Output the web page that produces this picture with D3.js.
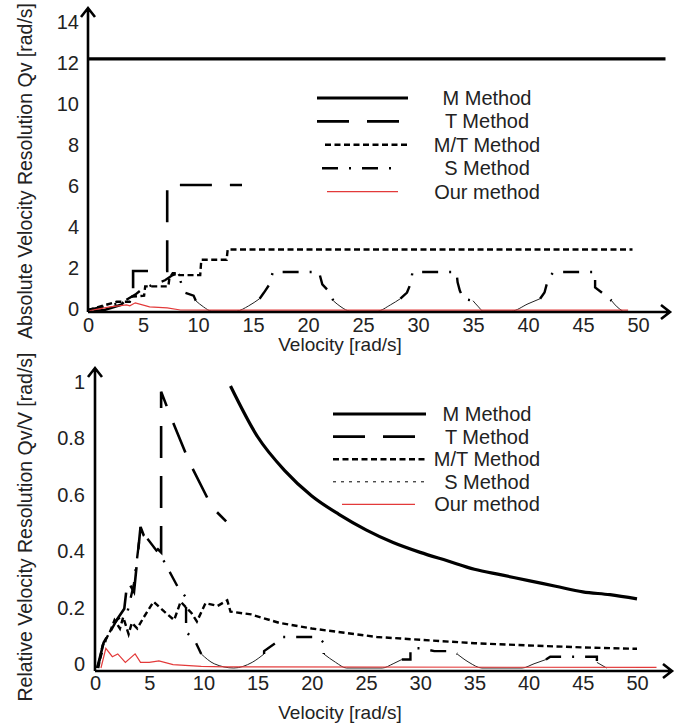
<!DOCTYPE html>
<html lang="en">
<head>
  <meta charset="UTF-8" />
  <title>Velocity Resolution</title>
  <script src="https://cdn.jsdelivr.net/npm/d3@7"></script>
  <style>
    body {
      margin: 0;
      background: #fff;
    }
    svg {
      display: block;
      font-family: Arial, "Liberation Sans", sans-serif;
    }
    .tick text {
      fill: #222;
      font-size: 20px;
    }
  </style>
</head>
<body>
  <div id="chart"></div>

  <script>
    // tick labels
    const velTicks = [0, 5, 10, 15, 20, 25, 30, 35, 40, 45, 50];
    const absTicks = [0, 2, 4, 6, 8, 10, 12, 14];
    const relTicks = [0, 0.2, 0.4, 0.6, 0.8, 1];
    const methods = ["M Method", "T Method", "M/T Method", "S Method", "Our method"];

    // absolute resolution Qv [rad/s] ([velocity, value])
    const mAbs = [[0, 12.3], [52.5, 12.3]];
    const tAbs = [[0.5, 0], [1.5, 0.05], [3, 0.3], [4.1, 0.9], [4.1, 1.95], [7.2, 1.95], [7.2, 6.15], [14, 6.15]];
    const mtAbs = [[0, 0.05], [2.6, 0.45], [3.8, 0.45], [4, 0.7], [5.1, 0.75], [5.2, 1.2], [7.3, 1.2], [7.4, 1.6],
      [7.7, 1.85], [8.2, 1.85], [8.3, 1.75], [10.2, 1.75], [10.3, 2.5], [12.6, 2.5], [12.7, 3.0], [49.5, 3.0]];
    const sAbsStep = [[0, 0.05], [3, 0.4], [4.3, 0.8], [5, 1.1], [6, 1.3], [7, 1.5], [7.7, 1.75], [8.2, 1.85],
      [8.5, 1.3], [8.8, 0.9], [9.6, 0.75], [9.8, 0.5], null,
      [15.6, 0.6], [16, 0.9], [16.5, 1.3], [16.8, 1.9], [21, 1.9], [21.3, 1.3], [22, 0.9], [22.3, 0.5], null,
      [28.4, 0.6], [29, 0.9], [29.3, 1.3], [29.5, 1.9], [33.5, 1.9], [33.6, 1.4], [33.8, 1.0], [34.1, 0.6], [35, 0.5], null,
      [41.1, 0.6], [41.5, 0.9], [41.8, 1.5], [42.3, 1.9], [46.1, 1.9], [46.1, 1.15], [46.7, 0.9], [47.6, 0.5]];
    const sAbsCurve = [[9.8, 0.5], [10.5, 0.2], [11.2, 0], [13.5, 0], [14.6, 0.25], [15.6, 0.6], null,
      [22.3, 0.5], [23, 0.2], [23.8, 0], [26.3, 0], [27.5, 0.3], [28.4, 0.6], null,
      [35, 0.5], [35.5, 0.2], [35.9, 0], [38.5, 0], [40, 0.35], [41.1, 0.6], null,
      [47.6, 0.5], [48.1, 0.2], [48.6, 0]];
    const ourAbs = [[0, 0], [1, 0.1], [2, 0.2], [3.5, 0.3], [3.8, 0.25], [4.3, 0.4], [5.6, 0.2], [7.2, 0.15],
      [8.4, 0.05], [12, 0.04], [49.1, 0.04]];

    // relative resolution Qv/V
    const mRel = [[12.5, 1.0], [15, 0.82], [17.5, 0.7], [20, 0.61], [22.5, 0.545], [25, 0.49], [27.5, 0.445],
      [30, 0.41], [32.5, 0.38], [35, 0.35], [37.5, 0.33], [40, 0.31], [42.5, 0.29], [45, 0.27], [47.5, 0.26], [50, 0.245]];
    const tRel = [[0.2, 0], [0.8, 0.09], [2, 0.17], [2.7, 0.21], [3, 0.31], [3.6, 0.27], [4.2, 0.5], [4.5, 0.47],
      [6.1, 0.41], [6.1, 0.98], [7, 0.89], [8.7, 0.73], [10.8, 0.57], [12.1, 0.52]];
    const mtRel = [[0.3, 0], [0.7, 0.08], [1.4, 0.13], [1.8, 0.17], [2.3, 0.14], [2.6, 0.18], [3.1, 0.12],
      [3.4, 0.16], [3.9, 0.14], [4.5, 0.18], [5.4, 0.235], [6.4, 0.2], [7.3, 0.17], [7.9, 0.235], [8.9, 0.195],
      [9.4, 0.165], [10.2, 0.23], [11.3, 0.22], [12.2, 0.24], [12.5, 0.2], [14.4, 0.19], [17, 0.16], [20, 0.14],
      [23, 0.125], [26, 0.11], [30, 0.1], [35, 0.088], [40, 0.08], [45, 0.073], [50, 0.068]];
    const sRelStep = [[0.2, 0], [1, 0.1], [2, 0.17], [3, 0.2], [3.6, 0.3], [4.2, 0.49], [5, 0.45], [6.2, 0.39],
      [7.6, 0.29], [8.4, 0.25], [8.4, 0.13], [9.3, 0.09], [9.8, 0.05], null,
      [15.6, 0.05], [15.6, 0.06], [16.7, 0.09], [17.2, 0.11], [20.5, 0.11], [21.1, 0.09], [21.1, 0.05], null,
      [28.3, 0.03], [29.1, 0.03], [29.1, 0.07], [30.1, 0.07], [31.3, 0.06], [32.9, 0.06], [33.4, 0.05], null,
      [41.6, 0.03], [42, 0.04], [46.3, 0.04], [46.3, 0.02]];
    const sRelCurve = [[9.8, 0.05], [11, 0.015], [12.8, 0], [14.5, 0.02], [15.6, 0.05], null,
      [21.1, 0.05], [22.2, 0.02], [23.2, 0], [26.5, 0], [27.5, 0.015], [28.3, 0.03], null,
      [33.4, 0.05], [34.5, 0.02], [35.7, 0], [39.4, 0], [40.5, 0.015], [41.6, 0.03], null,
      [46.3, 0.02], [47.2, 0]];
    const ourRel = [[0.55, 0], [1, 0.07], [1.6, 0.04], [2.1, 0.05], [2.8, 0.02], [3.7, 0.05], [4.2, 0.02],
      [5, 0.02], [5.9, 0.025], [7.2, 0.012], [9.8, 0.006], [12, 0.004], [51.8, 0.002]];

    // line styles
    const styles = {
      m: { width: 3.2, dash: null, color: "#000" },
      t: { width: 2.6, dash: "32,18", color: "#000" },
      mt: { width: 2.4, dash: "6,3.5", color: "#000" },
      s: { width: 2.4, dash: "16,11,2,11", color: "#000" },
      sThin: { width: 1, dash: null, color: "#222" },
      sLegendThin: { width: 1, dash: "3,5", color: "#000" },
      our: { width: 1.2, dash: null, color: "#e33a3a" }
    };

    const width = 684;
    const height = 726;

    const svg = d3.select("#chart")
      .append("svg")
      .attr("width", width)
      .attr("height", height);

    function drawPanel(p) {
      const g = svg.append("g");
      const x = d3.scaleLinear().domain([0, 50]).range([p.x0, p.x50]);
      const y = d3.scaleLinear().domain(p.yDomain).range(p.yRange);

      // tick labels only, no tick marks
      const xAxis = g.append("g")
        .attr("transform", `translate(0, ${p.axisY})`)
        .call(d3.axisBottom(x).tickValues(velTicks).tickSize(0).tickPadding(p.xPad).tickFormat(d3.format("d")));
      xAxis.select(".domain").remove();

      const yAxis = g.append("g")
        .attr("transform", `translate(${p.axisX}, ${p.yLabelShift})`)
        .call(d3.axisLeft(y).tickValues(p.yTicks).tickSize(0).tickPadding(p.yPad).tickFormat(d => String(d)));
      yAxis.select(".domain").remove();

      const line = d3.line()
        .defined(d => d)
        .x(d => x(d[0]))
        .y(d => y(d[1]));
      const curve = d3.line()
        .defined(d => d)
        .curve(d3.curveMonotoneX)
        .x(d => x(d[0]))
        .y(d => y(d[1]));

      p.series.forEach(s => {
        const st = styles[s.style];
        g.append("path")
          .attr("d", (s.smooth ? curve : line)(s.data))
          .attr("fill", "none")
          .attr("stroke", st.color)
          .attr("stroke-width", st.width)
          .attr("stroke-dasharray", st.dash)
          .attr("stroke-linejoin", "miter");
      });

      // axes with open arrow heads
      g.append("path")
        .attr("d", `M${p.axisX},${p.axisY} V${p.yTip} M${p.axisX - 7},${p.yTip + 9} L${p.axisX},${p.yTip} L${p.axisX + 7},${p.yTip + 9}`)
        .attr("fill", "none").attr("stroke", "#000").attr("stroke-width", 2.6);
      g.append("path")
        .attr("d", `M${p.axisX},${p.axisY} H${p.xTip} M${p.xTip - 9},${p.axisY - 7} L${p.xTip},${p.axisY} L${p.xTip - 9},${p.axisY + 7}`)
        .attr("fill", "none").attr("stroke", "#000").attr("stroke-width", 2.6);

      // axis titles
      g.append("text")
        .attr("x", p.xTitleX)
        .attr("y", p.xTitleY)
        .attr("text-anchor", "middle")
        .attr("font-size", 19)
        .attr("fill", "#222")
        .text("Velocity [rad/s]");
      g.append("text")
        .attr("transform", `translate(${p.yTitleX}, ${p.yTitleY}) rotate(-90)`)
        .attr("text-anchor", "middle")
        .attr("font-size", 19.5)
        .attr("fill", "#222")
        .text(p.yTitle);

      // legend
      const legend = g.append("g").attr("id", "legend");
      p.legend.forEach((it, i) => {
        const st = styles[it.style];
        const ly = p.legendY + i * p.legendStep;
        legend.append("line")
          .attr("x1", it.x1).attr("x2", it.x2)
          .attr("y1", ly).attr("y2", ly)
          .attr("stroke", st.color)
          .attr("stroke-width", st.width)
          .attr("stroke-dasharray", st.dash);
        legend.append("text")
          .attr("x", p.legendTextX)
          .attr("y", ly + 7)
          .attr("text-anchor", "middle")
          .attr("font-size", 20)
          .attr("fill", "#222")
          .text(methods[i]);
      });
    }

    // top panel: absolute resolution
    drawPanel({
      x0: 88, x50: 638,
      yDomain: [0, 14], yRange: [311, 24], yTicks: absTicks,
      axisX: 88, axisY: 312, yTip: 8, xTip: 670,
      xPad: 6, yPad: 9, yLabelShift: -2,
      xTitleX: 340, xTitleY: 351,
      yTitleX: 32, yTitleY: 171,
      yTitle: "Absolute Velocity Resolution Qv [rad/s]",
      series: [
        { data: mAbs, style: "m" },
        { data: tAbs, style: "t" },
        { data: mtAbs, style: "mt" },
        { data: sAbsCurve, style: "sThin", smooth: true },
        { data: sAbsStep, style: "s" },
        { data: ourAbs, style: "our" }
      ],
      legendY: 98, legendStep: 23.4, legendTextX: 487,
      legend: [
        { style: "m", x1: 317, x2: 408 },
        { style: "t", x1: 317, x2: 405 },
        { style: "mt", x1: 325, x2: 408 },
        { style: "s", x1: 322, x2: 397 },
        { style: "our", x1: 327, x2: 398 }
      ]
    });

    // bottom panel: relative resolution
    drawPanel({
      x0: 95, x50: 637,
      yDomain: [0, 1], yRange: [668, 386], yTicks: relTicks,
      axisX: 95, axisY: 671, yTip: 368, xTip: 672,
      xPad: 5, yPad: 10, yLabelShift: -4,
      xTitleX: 340, xTitleY: 719,
      yTitleX: 32, yTitleY: 527,
      yTitle: "Relative Velocity Resolution Qv/V [rad/s]",
      series: [
        { data: mRel, style: "m", smooth: true },
        { data: tRel, style: "t" },
        { data: mtRel, style: "mt" },
        { data: sRelCurve, style: "sThin", smooth: true },
        { data: sRelStep, style: "s" },
        { data: ourRel, style: "our" }
      ],
      legendY: 414, legendStep: 22.6, legendTextX: 487,
      legend: [
        { style: "m", x1: 333, x2: 426 },
        { style: "t", x1: 333, x2: 426 },
        { style: "mt", x1: 333, x2: 426 },
        { style: "sLegendThin", x1: 333, x2: 426 },
        { style: "our", x1: 342, x2: 415 }
      ]
    });
  </script>
</body>
</html>
